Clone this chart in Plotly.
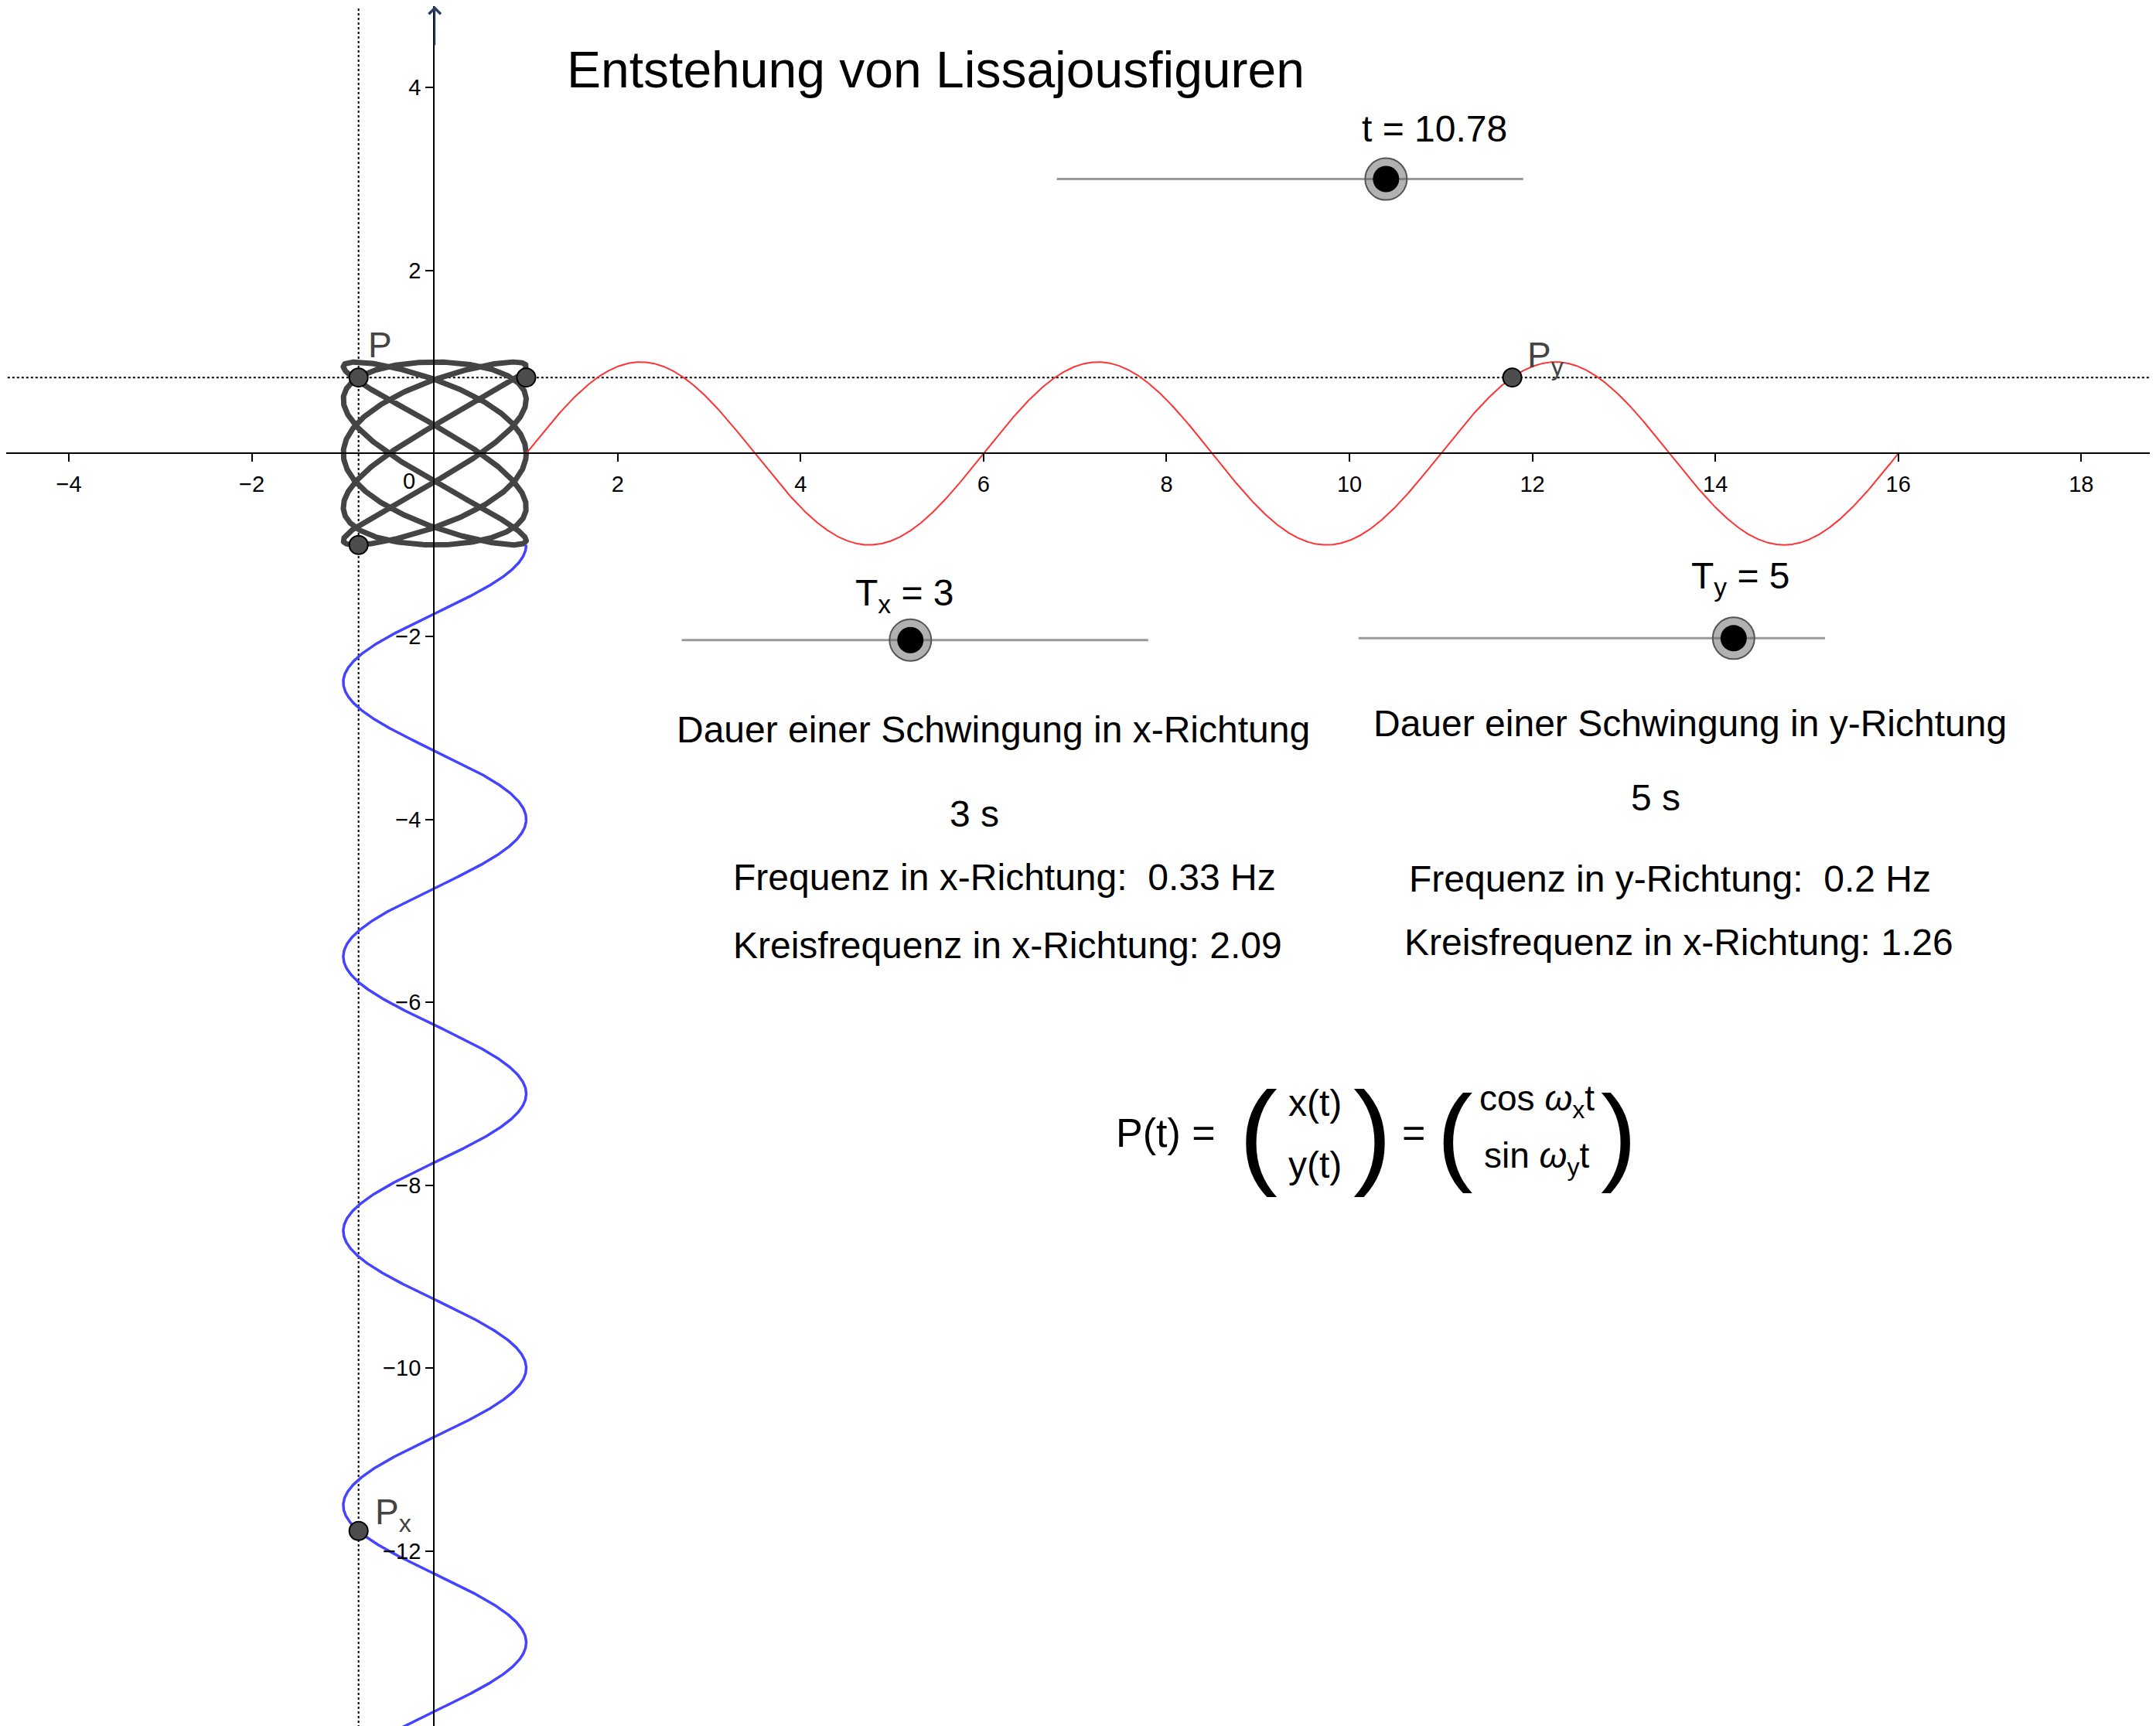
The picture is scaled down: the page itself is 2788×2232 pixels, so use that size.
import numpy as np
import plotly.graph_objects as go

Tx = 3
Ty = 5
t_now = 10.78
t_end = 15
x_ticks = [-4, -2, 2, 4, 6, 8, 10, 12, 14, 16, 18]
y_ticks = [-12, -10, -8, -6, -4, -2, 2, 4]
xr = [-4.67, 18.87]
yr = [-13.98, 4.89]

wx = 2*np.pi/Tx
wy = 2*np.pi/Ty
t = np.linspace(0, t_end, 3000)
Px = np.cos(wx*t_now); Py = np.sin(wy*t_now)

F = "Arial, Liberation Sans, sans-serif"
fig = go.Figure()
fig.add_trace(go.Scatter(x=xr, y=[Py, Py], mode="lines", line=dict(color="black", width=2, dash="dot"), hoverinfo="skip"))
fig.add_trace(go.Scatter(x=[Px, Px], y=yr, mode="lines", line=dict(color="black", width=2, dash="dot"), hoverinfo="skip"))
fig.add_trace(go.Scatter(x=np.cos(wx*t), y=np.sin(wy*t), mode="lines", line=dict(color="#444444", width=7)))
fig.add_trace(go.Scatter(x=1+t, y=np.sin(wy*t), mode="lines", line=dict(color="#ff3333", width=2)))
fig.add_trace(go.Scatter(x=np.cos(wx*t), y=-1-t, mode="lines", line=dict(color="#4444ff", width=3.5)))
fig.add_trace(go.Scatter(x=[Px, 1, Px, 1+t_now, Px], y=[Py, Py, -1, Py, -1-t_now], mode="markers",
                         marker=dict(size=24, color="#4d4d4d", line=dict(color="black", width=2))))
sl = [(6.8, 11.9, 3.0, 10.4), (2.7, 7.8, -2.04, 5.2), (10.1, 15.2, -2.02, 14.2)]
for a, b, y, k in sl:
    fig.add_trace(go.Scatter(x=[a, b], y=[y, y], mode="lines", line=dict(color="#999999", width=3)))
    fig.add_trace(go.Scatter(x=[k], y=[y], mode="markers", marker=dict(size=54, color="rgba(100,100,100,0.5)",
                                                                         line=dict(color="#555", width=2))))
    fig.add_trace(go.Scatter(x=[k], y=[y], mode="markers", marker=dict(size=34, color="black")))

ann = []
def A(x, y, s, size=48, xa="center", color="black"):
    ann.append(dict(x=x, y=y, text=s, showarrow=False, xanchor=xa, font=dict(size=size, color=color, family=F)))
A(1.43, 4.2, "Entstehung von Lissajousfiguren", 66, "left")
A(10.93, 3.55, "t = 10.78")
A(5.14, -1.55, "T<sub>x</sub> = 3")
A(14.28, -1.37, "T<sub>y</sub> = 5")
A(6.11, -3.02, "Dauer einer Schwingung in x-Richtung")
A(5.9, -3.94, "3 s")
A(6.23, -4.63, "Frequenz in x-Richtung:  0.33 Hz")
A(6.26, -5.38, "Kreisfrequenz in x-Richtung: 2.09")
A(13.72, -2.95, "Dauer einer Schwingung in y-Richtung")
A(13.35, -3.76, "5 s")
A(13.5, -4.65, "Frequenz in y-Richtung:  0.2 Hz")
A(13.6, -5.34, "Kreisfrequenz in x-Richtung: 1.26")
A(-0.6, 1.19, "P", 46, "center", "#444")
A(12.15, 1.05, "P<sub>y</sub>", 46, "center", "#444")
A(-0.45, -11.6, "P<sub>x</sub>", 46, "center", "#444")
A(-0.28, -0.3, "0", 29)
A(8.55, -7.43, "P(t) =", 52, "right")
A(9.0, -7.43, "(", 150); A(10.25, -7.43, ")", 150)
A(9.62, -7.1, "x(t)", 48); A(9.62, -7.78, "y(t)", 48)
A(10.7, -7.43, "=", 52)
A(11.15, -7.43, "(", 140); A(12.95, -7.43, ")", 140)
A(12.05, -7.08, "cos <i>ω</i><sub>x</sub>t", 46); A(12.05, -7.7, "sin <i>ω</i><sub>y</sub>t", 46)
ann.append(dict(x=0, y=4.89, ax=0, ay=4.45, xref="x", yref="y", axref="x", ayref="y", showarrow=True,
                arrowhead=4, arrowsize=1.5, arrowwidth=2, text=""))

fig.update_layout(width=2788, height=2232, margin=dict(l=0, r=0, t=0, b=0), showlegend=False,
                  plot_bgcolor="white", paper_bgcolor="white", annotations=ann)
fig.update_xaxes(range=xr, tickvals=x_ticks, showgrid=False, zeroline=False, showline=True, linecolor="black", linewidth=2,
                 anchor="free", position=13.98/18.87, ticks="outside", ticklen=10, tickwidth=2, tickcolor="black",
                 tickfont=dict(size=29, family=F, color="black"), ticklabelstandoff=4)
fig.update_yaxes(range=yr, tickvals=y_ticks, showgrid=False, zeroline=False, showline=True, linecolor="black", linewidth=2,
                 anchor="free", position=4.67/23.54, ticks="outside", ticklen=10, tickwidth=2, tickcolor="black",
                 tickfont=dict(size=29, family=F, color="black"), scaleanchor="x", scaleratio=1)
fig.write_html("out.html")
